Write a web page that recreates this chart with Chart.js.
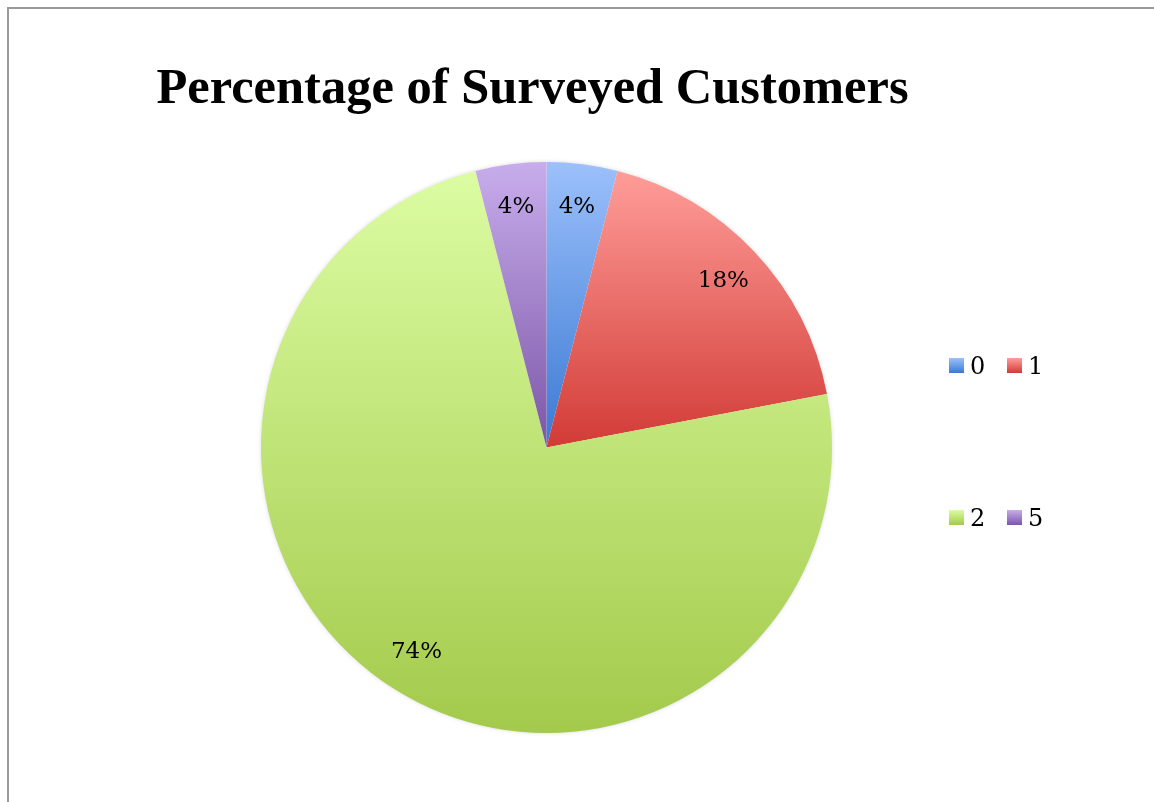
<!DOCTYPE html>
<html><head><meta charset="utf-8">
<script src="https://cdn.jsdelivr.net/npm/chart.js@4.4.1/dist/chart.umd.min.js"></script>
<style>
html,body{margin:0;padding:0;background:#fff;overflow:hidden}
#wrap{position:relative;width:1154px;height:802px}
#frame{position:absolute;left:7px;top:7px;right:-10px;bottom:-10px;border-left:2px solid #9b9b9b;border-top:2px solid #9b9b9b;pointer-events:none}
canvas{position:absolute;left:0;top:0}
</style></head><body>
<div id="wrap"><canvas id="c" width="1154" height="802"></canvas><div id="frame"></div></div>
<script>
const chartTitle = 'Percentage of Surveyed Customers';
const categories = ['0', '1', '2', '5'];
const counts = [2, 9, 37, 2];
const lightColors = ['#9cc0fb', '#ff9d99', '#dcfca2', '#c8adec'];
const darkColors = ['#3a79d3', '#d23b36', '#a3ca4b', '#7b56a6'];

const total = counts.reduce((a, b) => a + b, 0);
const percentLabels = counts.map(v => Math.round(v / total * 100) + '%');

function sliceGradient(context) {
  const chart = context.chart;
  const i = context.dataIndex;
  const area = chart.chartArea;
  if (!area || i === undefined) return lightColors[i || 0];
  const cx = (area.left + area.right) / 2, cy = (area.top + area.bottom) / 2;
  const r = Math.min(area.right - area.left, area.bottom - area.top) / 2;
  let cum = 0;
  for (let k = 0; k < i; k++) cum += counts[k];
  const a0 = -Math.PI / 2 + cum / total * 2 * Math.PI;
  const a1 = a0 + counts[i] / total * 2 * Math.PI;
  let ymin = Math.min(cy, cy + r * Math.sin(a0), cy + r * Math.sin(a1));
  let ymax = Math.max(cy, cy + r * Math.sin(a0), cy + r * Math.sin(a1));
  const contains = (a) => { for (let k = -2; k <= 2; k++) { const t = a + k * 2 * Math.PI; if (t >= a0 && t <= a1) return true; } return false; };
  if (contains(-Math.PI / 2)) ymin = cy - r;
  if (contains(Math.PI / 2)) ymax = cy + r;
  const g = chart.ctx.createLinearGradient(0, ymin, 0, ymax);
  g.addColorStop(0, lightColors[i]);
  g.addColorStop(1, darkColors[i]);
  return g;
}

const pieShadow = {
  id: 'pieShadow',
  beforeDatasetsDraw(chart) {
    const arc = chart.getDatasetMeta(0).data[0];
    if (!arc) return;
    const ctx = chart.ctx;
    ctx.save();
    ctx.shadowColor = 'rgba(0,0,0,0.22)';
    ctx.shadowBlur = 5;
    ctx.fillStyle = '#ffffff';
    ctx.beginPath();
    ctx.arc(arc.x, arc.y, arc.outerRadius - 1, 0, Math.PI * 2);
    ctx.fill();
    ctx.restore();
  }
};

const sliceLabels = {
  id: 'sliceLabels',
  afterDatasetsDraw(chart) {
    const ctx = chart.ctx;
    ctx.save();
    ctx.font = '23px "DejaVu Serif"';
    ctx.fillStyle = '#000';
    ctx.textAlign = 'center';
    ctx.textBaseline = 'middle';
    chart.getDatasetMeta(0).data.forEach((arc, i) => {
      const mid = (arc.startAngle + arc.endAngle) / 2;
      const r = arc.outerRadius * 0.85;
      ctx.fillText(percentLabels[i], arc.x + Math.cos(mid) * r, arc.y + Math.sin(mid) * r);
    });
    ctx.restore();
  }
};

const titleAndLegend = {
  id: 'titleAndLegend',
  afterDraw(chart) {
    const ctx = chart.ctx;
    ctx.save();
    ctx.font = 'bold 50.5px "Liberation Serif"';
    ctx.fillStyle = '#000';
    ctx.textAlign = 'center';
    ctx.textBaseline = 'alphabetic';
    ctx.fillText(chartTitle, 532.5, 103);
    // legend: 2 x 2 grid
    const cols = [949, 1007];
    const rows = [358, 510];
    ctx.font = '24px "DejaVu Serif"';
    ctx.textAlign = 'left';
    chart.data.labels.forEach((lab, i) => {
      const x = cols[i % 2], y = rows[Math.floor(i / 2)];
      const g = ctx.createLinearGradient(0, y, 0, y + 15);
      g.addColorStop(0, lightColors[i]);
      g.addColorStop(1, darkColors[i]);
      ctx.fillStyle = g;
      ctx.fillRect(x, y, 15, 15);
      ctx.fillStyle = '#000';
      ctx.fillText(lab, x + 21, y + 16);
    });
    ctx.restore();
  }
};

new Chart(document.getElementById('c'), {
  type: 'pie',
  data: {
    labels: categories,
    datasets: [{
      data: counts,
      backgroundColor: sliceGradient,
      borderWidth: 0
    }]
  },
  options: {
    responsive: false,
    animation: false,
    layout: { padding: { left: 261, right: 322, top: 162, bottom: 69 } },
    plugins: {
      legend: { display: false },
      title: { display: false },
      tooltip: { enabled: false }
    }
  },
  plugins: [pieShadow, sliceLabels, titleAndLegend]
});
</script>
</body></html>
